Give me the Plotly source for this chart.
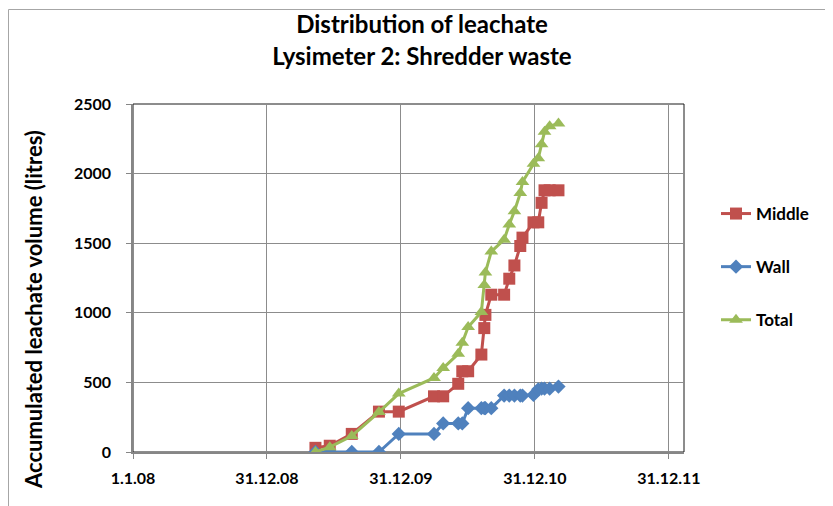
import plotly.graph_objects as go

# sampling dates (shared by all three series)
dates = [
    "2009-05-12", "2009-06-20", "2009-08-19", "2009-11-01", "2009-12-25",
    "2010-03-31", "2010-04-25", "2010-06-05", "2010-06-16", "2010-07-02",
    "2010-08-07", "2010-08-15", "2010-08-18", "2010-09-03", "2010-10-08",
    "2010-10-22", "2010-11-05", "2010-11-21", "2010-11-27", "2010-12-27",
    "2011-01-09", "2011-01-18", "2011-01-26", "2011-02-09", "2011-03-05",
]
middle = [30, 45, 130, 290, 290, 400, 400, 490, 580, 580, 700, 890, 985, 1130, 1130,
          1245, 1340, 1480, 1540, 1650, 1650, 1790, 1880, 1880, 1880]
wall = [0, 0, 0, 0, 130, 130, 205, 205, 205, 315, 315, 315, 315, 315, 405,
        405, 405, 405, 405, 410, 450, 455, 455, 455, 470]
total = [0, 35, 115, 287, 420, 532, 603, 705, 785, 898, 1005, 1200, 1290, 1440, 1525,
         1635, 1730, 1860, 1940, 2070, 2110, 2210, 2300, 2340, 2360]

tick_dates = ["2008-01-01", "2008-12-31", "2009-12-31", "2010-12-31", "2011-12-31"]
tick_labels = ["1.1.08", "31.12.08", "31.12.09", "31.12.10", "31.12.11"]

FONT = "Lato"

fig = go.Figure()
fig.add_trace(go.Scatter(
    x=dates, y=middle, name="<b>Middle</b>", mode="lines+markers", legendgroup="m",
    line=dict(color="#C0504D", width=3),
    marker=dict(symbol="square", size=12, color="#C0504D"),
))
fig.add_trace(go.Scatter(
    x=dates, y=wall, name="<b>Wall</b>", mode="lines+markers", legendgroup="w",
    line=dict(color="#4F81BD", width=3),
    marker=dict(symbol="diamond", size=11, color="#4F81BD"),
))
fig.add_trace(go.Scatter(
    x=dates, y=total, name="<b>Total</b>", mode="lines+markers", legendgroup="t",
    line=dict(color="#9BBB59", width=3),
    marker=dict(symbol="triangle-up", size=12, color="#9BBB59"),
))


# screen px -> paper helpers (plot area spans 133..684 x, 104..452 y on screen)
def px_x(p):
    return (p - 133) / 551


def px_y(p):
    return (452 - p) / 348


fig.update_layout(
    width=833, height=506,
    paper_bgcolor="white", plot_bgcolor="white",
    margin=dict(l=125, r=157, t=96, b=62),
    font=dict(family=FONT, color="black"),
    title=dict(
        text="<b>Distribution of leachate<br>Lysimeter 2: Shredder waste</b>",
        x=0.497, xanchor="center", y=0.95, yanchor="top",
        font=dict(size=24, family=FONT),
    ),
    legend=dict(
        x=px_x(716), y=px_y(196), xanchor="left", yanchor="top",
        font=dict(size=17, family=FONT),
        tracegroupgap=28, bgcolor="rgba(0,0,0,0)",
    ),
    shapes=[
        dict(type="rect", xref="paper", yref="paper", x0=0, x1=1, y0=0, y1=1,
             line=dict(color="#1a1a1a", width=1), layer="below"),
        dict(type="rect", xref="paper", yref="paper",
             x0=px_x(8.5), x1=px_x(840), y0=px_y(9.5), y1=px_y(530),
             line=dict(color="#a6a6a6", width=1), layer="below"),
    ],
    annotations=[
        dict(text="<b>Accumulated leachate volume (litres)</b>", textangle=-90,
             xref="paper", yref="paper", x=px_x(33), y=px_y(310),
             xanchor="center", yanchor="middle", showarrow=False,
             font=dict(size=22, family=FONT)),
    ],
)
fig.update_xaxes(
    type="date", range=["2008-01-01", "2012-02-10"],
    tickvals=tick_dates, ticktext=[f"<b>{t}</b>" for t in tick_labels],
    tickfont=dict(size=16, family=FONT), ticks="outside", ticklen=5, tickcolor="#868686",
    ticklabelstandoff=6,
    showgrid=True, gridcolor="#8c8c8c", gridwidth=1,
    showline=True, linecolor="#868686", linewidth=1.5, zeroline=False,
)
fig.update_yaxes(
    range=[0, 2500], tickvals=[0, 500, 1000, 1500, 2000, 2500],
    ticktext=["<b>0</b>", "<b>500</b>", "<b>1000</b>", "<b>1500</b>", "<b>2000</b>", "<b>2500</b>"],
    tickfont=dict(size=16, family=FONT), ticks="outside", ticklen=5, tickcolor="#868686",
    ticklabelstandoff=12,
    showgrid=True, gridcolor="#8c8c8c", gridwidth=1,
    showline=True, linecolor="#868686", linewidth=1.5, zeroline=False,
)

fig.write_html("out.html")
